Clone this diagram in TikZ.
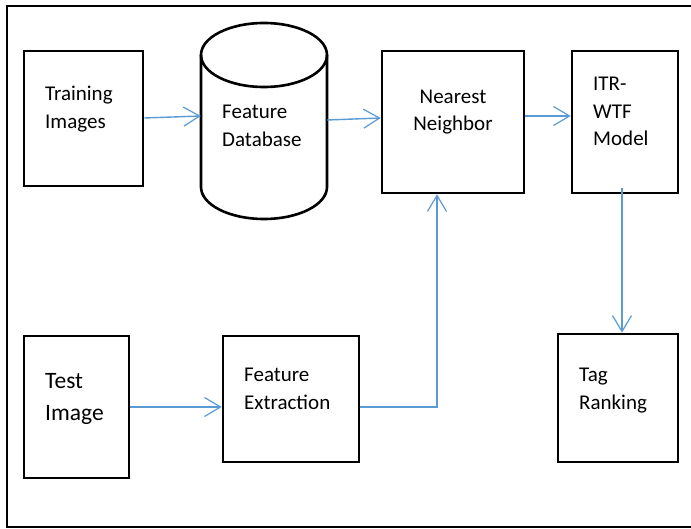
\documentclass[tikz,border=0pt]{standalone}
\usepackage{fontspec}
\setmainfont{Carlito}
\usetikzlibrary{arrows.meta}
\definecolor{arrblue}{RGB}{91,155,213}
\tikzset{
  box/.style={draw=black, line width=2.6pt, fill=white, inner sep=0pt},
  lbl/.style={inner sep=0pt, align=left, font=\fontsize{21}{27.5}\selectfont},
  conn/.style={draw=arrblue, line width=1.4pt, -{Straight Barb[length=16pt,width=19pt,line width=1.2pt]}}
}
\begin{document}
\begin{tikzpicture}[x=1pt,y=-1pt]
\useasboundingbox (0,0) rectangle (691,529);
\fill[white] (0,0) rectangle (691,529);
% outer frame (right side cut off)
\draw[line width=2.8pt] (691,6) -- (7,6) -- (7,527) -- (691,527);

% boxes
\node[box, minimum width=119pt, minimum height=135pt] (train) at (83.5,118.5) {};
\node[box, minimum width=142pt, minimum height=142pt] (nn) at (453,122) {};
\node[box, minimum width=106pt, minimum height=142pt] (itr) at (625,122) {};
\node[box, minimum width=120pt, minimum height=128pt] (tag) at (618,398) {};
\node[box, minimum width=105pt, minimum height=142pt] (test) at (76.5,407) {};
\node[box, minimum width=136pt, minimum height=126pt] (fe) at (291,399) {};

% cylinder
\node[inner sep=0pt, minimum width=126pt, minimum height=196pt] (db) at (264,121) {};
\draw[line width=2.6pt, fill=white] (201,55) -- (201,187) arc[start angle=180, end angle=360, x radius=63, y radius=-32] -- (327,55);
\draw[line width=2.6pt] (264,55) ellipse[x radius=63, y radius=32];

% labels (anchor = baseline of last line)
\node[lbl, anchor=base west] (ttrain) at (45,128.5) {Training\\Images};
\node[lbl, anchor=base west] (tdb) at (222,146.5) {Feature\\Database};
\node[lbl, anchor=base, align=center] (tnn) at (453,131) {Nearest\\Neighbor};
\node[lbl, anchor=base west] (titr) at (593,145.7) {ITR-\\WTF\\Model};
\node[lbl, anchor=base west] (ttag) at (579,409.3) {Tag\\Ranking};
\node[lbl, anchor=base west, font=\fontsize{23.5}{32}\selectfont] (ttest) at (45,420.7) {Test\\Image};
\node[lbl, anchor=base west] (tfe) at (244,409.3) {Feature\\Extraction};

% connectors
\draw[conn] ([yshift=0.5pt]train.east) -- ([yshift=5pt]db.west);
\draw[conn] ([yshift=1pt]db.east) -- ([yshift=4pt]nn.west);
\draw[conn] ([yshift=6pt]nn.east) -- ([yshift=6pt]itr.west);
\draw[conn, line width=1.6pt] ([xshift=-3pt,yshift=6pt]itr.south) -- ([xshift=-3pt]itr.south |- tag.north);
\draw[conn] (test.east) -- (test.east -| fe.west);
\draw[conn] ([yshift=-8pt]fe.east) -| ([xshift=-16pt]nn.south);
\end{tikzpicture}
\end{document}
